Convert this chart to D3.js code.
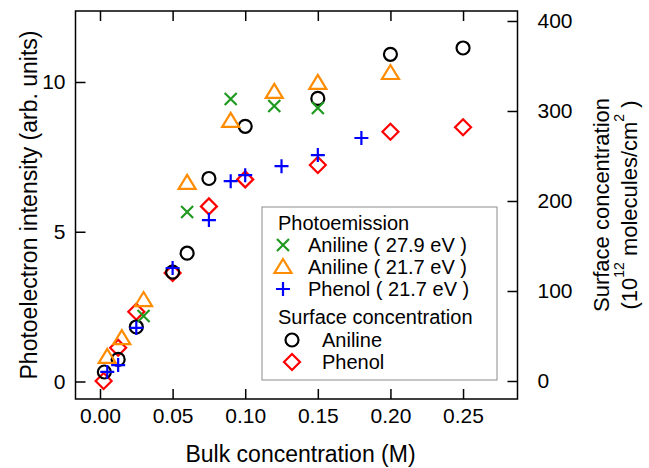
<!DOCTYPE html>
<html>
<head>
<meta charset="utf-8">
<script src="https://cdn.jsdelivr.net/npm/d3@7/dist/d3.min.js"></script>
<style>
  html, body { margin: 0; padding: 0; background: #fff; }
  svg { display: block; }
  text { font-family: "Liberation Sans", Arial, sans-serif; fill: #000; }
</style>
</head>
<body>
<svg id="chart" width="649" height="468"></svg>
<script>
// Bulk concentration (M) values and measured responses for each series
const aniline279Conc = [0.03, 0.06, 0.09, 0.12, 0.15];
const aniline279Int  = [2.19, 5.66, 9.43, 9.20, 9.13];

const aniline217Conc = [0.005, 0.015, 0.03, 0.06, 0.09, 0.12, 0.15, 0.2];
const aniline217Int  = [0.82, 1.45, 2.72, 6.63, 8.70, 9.67, 9.97, 10.30];

const phenol217Conc = [0.005, 0.0125, 0.025, 0.05, 0.075, 0.09, 0.1, 0.125, 0.15, 0.18];
const phenol217Int  = [0.32, 0.55, 1.79, 3.79, 5.39, 6.69, 6.89, 7.19, 7.56, 8.13];

const surfAnilineConc = [0.003, 0.0125, 0.025, 0.05, 0.06, 0.075, 0.1, 0.15, 0.2, 0.25];
const surfAnilineVal  = [10, 24, 60, 121, 142, 225, 283, 314, 363, 370];

const surfPhenolConc = [0.0025, 0.0125, 0.025, 0.05, 0.075, 0.1, 0.15, 0.2, 0.25];
const surfPhenolVal  = [0, 37, 77, 120, 194, 224, 240, 277, 282];

// Tick values
const xTicks = [0, 0.05, 0.10, 0.15, 0.20, 0.25];
const yLeftTicks = [0, 5, 10];
const yRightTicks = [0, 100, 200, 300, 400];

const svg = d3.select("#chart");

const frame = { left: 75.5, right: 517.5, top: 11, bottom: 399 };

const x = d3.scaleLinear().domain([-0.01687, 0.2875]).range([frame.left, frame.right]);
const yL = d3.scaleLinear().domain([-0.584, 12.37]).range([frame.bottom, frame.top]);
const yR = d3.scaleLinear().domain([-20, 411.1]).range([frame.bottom, frame.top]);

const tickFont = 21;

// Axes (ticks point inward)
const gB = svg.append("g").attr("transform", `translate(0,${frame.bottom})`)
  .call(d3.axisBottom(x).tickValues(xTicks).tickFormat(d3.format(".2f")).tickSize(-10).tickPadding(9));
const gT = svg.append("g").attr("transform", `translate(0,${frame.top})`)
  .call(d3.axisTop(x).tickValues(xTicks).tickFormat("").tickSize(-10));
const gL = svg.append("g").attr("transform", `translate(${frame.left},0)`)
  .call(d3.axisLeft(yL).tickValues(yLeftTicks).tickFormat(d3.format("d")).tickSize(-10).tickPadding(10));
const gR = svg.append("g").attr("transform", `translate(${frame.right},0)`)
  .call(d3.axisRight(yR).tickValues(yRightTicks).tickFormat(d3.format("d")).tickSize(-10).tickPadding(20));

[gB, gT, gL, gR].forEach(g => {
  g.select(".domain").remove();
  g.selectAll(".tick line").attr("stroke", "#000").attr("stroke-width", 1.5);
  g.selectAll(".tick text").style("font-size", tickFont + "px")
    .style("font-family", '"Liberation Sans", Arial, sans-serif').attr("fill", "#000");
});

svg.append("rect")
  .attr("x", frame.left).attr("y", frame.top)
  .attr("width", frame.right - frame.left).attr("height", frame.bottom - frame.top)
  .attr("fill", "none").attr("stroke", "#000").attr("stroke-width", 1.5);

// Axis titles
svg.append("text")
  .attr("x", (frame.left + frame.right) / 2 + 4).attr("y", 454)
  .attr("text-anchor", "middle").attr("dominant-baseline", "central")
  .style("font-size", "23px")
  .text("Bulk concentration (M)");

svg.append("text")
  .attr("transform", `translate(29,${(frame.top + frame.bottom) / 2}) rotate(-90)`)
  .attr("text-anchor", "middle").attr("dominant-baseline", "central")
  .style("font-size", "23px")
  .text("Photoelectron intensity (arb. units)");

const rt = svg.append("g")
  .attr("transform", `translate(601,${(frame.top + frame.bottom) / 2}) rotate(-90)`);
rt.append("text")
  .attr("x", 0).attr("y", 0)
  .attr("text-anchor", "middle").attr("dominant-baseline", "central")
  .style("font-size", "22px")
  .text("Surface concentration");
const rt2 = rt.append("text")
  .attr("x", 0).attr("y", 28)
  .attr("text-anchor", "middle").attr("dominant-baseline", "central")
  .style("font-size", "22px");
rt2.append("tspan").text("(10");
rt2.append("tspan").attr("dy", -10).style("font-size", "14px").text("12");
rt2.append("tspan").attr("dy", 10).text(" molecules/cm");
rt2.append("tspan").attr("dy", -10).style("font-size", "14px").text("2");
rt2.append("tspan").attr("dy", 10).text(" )");

// Marker shapes
const colors = {
  green: "#1f9a1f",
  orange: "#ff8c00",
  blue: "#0000ff",
  black: "#000000",
  red: "#ff0000"
};

function drawMarker(g, type, color, cx, cy) {
  const s = g.append("g").attr("transform", `translate(${cx},${cy})`);
  if (type === "x") {
    const h = 6;
    s.append("path").attr("d", `M${-h},${-h}L${h},${h}M${-h},${h}L${h},${-h}`)
      .attr("stroke", color).attr("stroke-width", 2.2).attr("fill", "none");
  } else if (type === "plus") {
    const h = 7;
    s.append("path").attr("d", `M${-h},0L${h},0M0,${-h}L0,${h}`)
      .attr("stroke", color).attr("stroke-width", 2.2).attr("fill", "none");
  } else if (type === "triangle") {
    s.append("path").attr("d", "M0,-8L8.5,6L-8.5,6Z")
      .attr("stroke", color).attr("stroke-width", 2.2).attr("fill", "none")
      .attr("stroke-linejoin", "miter");
  } else if (type === "circle") {
    s.append("circle").attr("r", 6.5)
      .attr("stroke", color).attr("stroke-width", 2.2).attr("fill", "none");
  } else if (type === "diamond") {
    s.append("path").attr("d", "M0,-8L8,0L0,8L-8,0Z")
      .attr("stroke", color).attr("stroke-width", 2.2).attr("fill", "none");
  }
}

const series = [
  { conc: surfPhenolConc, val: surfPhenolVal, y: yR, type: "diamond", color: colors.red },
  { conc: surfAnilineConc, val: surfAnilineVal, y: yR, type: "circle", color: colors.black },
  { conc: aniline217Conc, val: aniline217Int, y: yL, type: "triangle", color: colors.orange },
  { conc: aniline279Conc, val: aniline279Int, y: yL, type: "x", color: colors.green },
  { conc: phenol217Conc, val: phenol217Int, y: yL, type: "plus", color: colors.blue }
];

const marks = svg.append("g");
series.forEach(s => {
  s.conc.forEach((c, i) => drawMarker(marks, s.type, s.color, x(c), s.y(s.val[i])));
});

// Legend
const lg = svg.append("g");
lg.append("rect").attr("x", 262).attr("y", 207).attr("width", 235).attr("height", 173)
  .attr("fill", "#fff").attr("stroke", "#8c8c8c").attr("stroke-width", 1);

const legendFont = "20px";
const legendRows = [
  { kind: "title", text: "Photoemission", y: 223 },
  { kind: "item", type: "x", color: colors.green, text: "Aniline ( 27.9 eV )", y: 245, mx: 283, tx: 308 },
  { kind: "item", type: "triangle", color: colors.orange, text: "Aniline ( 21.7 eV )", y: 267, mx: 283, tx: 308 },
  { kind: "item", type: "plus", color: colors.blue, text: "Phenol ( 21.7 eV )", y: 289, mx: 283, tx: 308 },
  { kind: "title", text: "Surface concentration", y: 317 },
  { kind: "item", type: "circle", color: colors.black, text: "Aniline", y: 340, mx: 292, tx: 322 },
  { kind: "item", type: "diamond", color: colors.red, text: "Phenol", y: 362, mx: 292, tx: 322 }
];
legendRows.forEach(r => {
  if (r.kind === "item") drawMarker(lg, r.type, r.color, r.mx, r.y);
  lg.append("text")
    .attr("x", r.kind === "title" ? 278 : r.tx).attr("y", r.y)
    .attr("dominant-baseline", "central")
    .style("font-size", legendFont)
    .text(r.text);
});
</script>
</body>
</html>
